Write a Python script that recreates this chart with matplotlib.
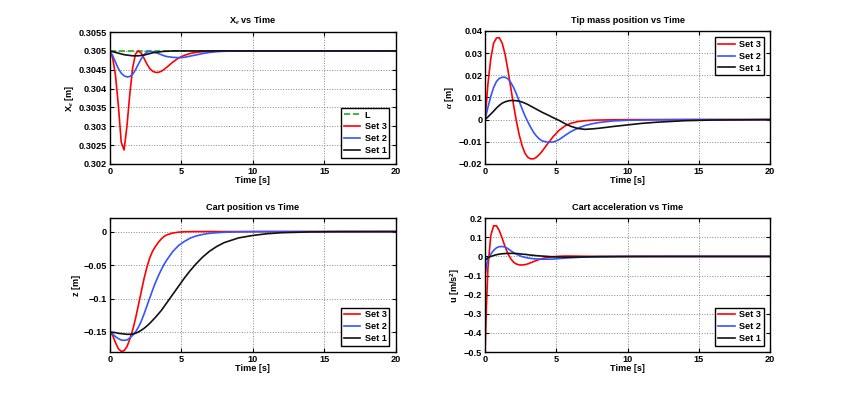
import matplotlib
matplotlib.use("Agg")
import matplotlib.pyplot as plt
from matplotlib.ticker import FuncFormatter

plt.rcParams['font.family'] = ['Liberation Sans', 'DejaVu Sans']
plt.rcParams['font.weight'] = 'bold'
plt.rcParams['axes.labelweight'] = 'bold'
plt.rcParams['font.size'] = 6.6
plt.rcParams['mathtext.fontset'] = 'custom'
plt.rcParams['mathtext.rm'] = 'Liberation Sans:bold'
plt.rcParams['mathtext.it'] = 'Liberation Serif:italic'

# time samples (s)
t = [0, 0.2, 0.4, 0.6, 0.8, 1.0, 1.2, 1.4, 1.6, 1.8, 2.0, 2.2, 2.4, 2.6, 2.8,
     3.0, 3.2, 3.4, 3.6, 3.8, 4.0, 4.4, 4.8, 5.2, 5.6, 6.0, 6.5, 7, 7.5, 8, 9, 10,
     11, 12, 14, 16, 20]
t_u = [0, 0.1] + t[1:]

# Xe [m]
xe_L = [0.305] * len(t)
xe_set3 = [0.30500, 0.30482, 0.30435, 0.30355, 0.30258, 0.30237, 0.30300, 0.30385,
           0.30455, 0.30492, 0.30500, 0.30494, 0.30480, 0.30465, 0.30453, 0.30446,
           0.30443, 0.30443, 0.30446, 0.30451, 0.30457, 0.30470, 0.30481, 0.30488,
           0.30493, 0.30496, 0.30498, 0.30499, 0.30500, 0.30500, 0.30500, 0.30500,
           0.30500, 0.30500, 0.30500, 0.30500, 0.30500]
xe_set2 = [0.30500, 0.30488, 0.30470, 0.30453, 0.30441, 0.30434, 0.30431, 0.30432,
           0.30438, 0.30450, 0.30465, 0.30479, 0.30490, 0.30497, 0.30499, 0.30498,
           0.30496, 0.30493, 0.30490, 0.30487, 0.30485, 0.30483, 0.30482, 0.30483,
           0.30486, 0.30489, 0.30493, 0.30496, 0.30498, 0.30499, 0.30500, 0.30500,
           0.30500, 0.30500, 0.30500, 0.30500, 0.30500]
xe_set1 = [0.30500, 0.30498, 0.30496, 0.30494, 0.30492, 0.30490, 0.30489, 0.30488,
           0.30487, 0.30487, 0.30487, 0.30488, 0.30489, 0.30491, 0.30493, 0.30495,
           0.30496, 0.30497, 0.30498, 0.30499, 0.30499, 0.30500, 0.30500, 0.30500,
           0.30500, 0.30500, 0.30500, 0.30500, 0.30500, 0.30500, 0.30500, 0.30500,
           0.30500, 0.30500, 0.30500, 0.30500, 0.30500]

# alpha [m]
al_set3 = [0, 0.0160, 0.0275, 0.0345, 0.0368, 0.0369, 0.0345, 0.0295, 0.0225, 0.0145,
           0.0065, -0.0008, -0.0070, -0.0118, -0.0152, -0.0170, -0.0177, -0.0177,
           -0.0170, -0.0158, -0.0143, -0.0108, -0.0075, -0.0048, -0.0029, -0.0017,
           -0.0009, -0.0005, -0.0003, -0.0002, -0.0001, 0, 0, 0, 0, 0, 0]
al_set2 = [0, 0.0055, 0.0105, 0.0145, 0.0172, 0.0186, 0.0191, 0.0191, 0.0184, 0.0168,
           0.0145, 0.0115, 0.0082, 0.0048, 0.0017, -0.0010, -0.0035, -0.0057, -0.0074,
           -0.0087, -0.0096, -0.0102, -0.0101, -0.0090, -0.0072, -0.0055, -0.0039,
           -0.0027, -0.0019, -0.0013, -0.0006, -0.0003, -0.0002, -0.0001, 0, 0, 0]
al_set1 = [0, 0.0012, 0.0025, 0.0038, 0.0052, 0.0064, 0.0074, 0.0080, 0.0084, 0.0086,
           0.0086, 0.0085, 0.0083, 0.0079, 0.0074, 0.0068, 0.0061, 0.0054, 0.0047,
           0.0040, 0.0033, 0.0021, 0.0008, -0.0004, -0.0018, -0.0030, -0.0040,
           -0.0044, -0.0042, -0.0039, -0.0031, -0.0024, -0.0017, -0.0012, -0.0005,
           -0.0002, 0]

# z [m]
z_set3 = [-0.150, -0.155, -0.166, -0.175, -0.179, -0.178, -0.172, -0.161, -0.147,
          -0.130, -0.110, -0.090, -0.070, -0.053, -0.039, -0.029, -0.022, -0.016,
          -0.011, -0.0072, -0.0048, -0.0022, -0.0009, -0.0003, -0.0001, 0, 0, 0, 0,
          0, 0, 0, 0, 0, 0, 0, 0]
z_set2 = [-0.150, -0.153, -0.157, -0.160, -0.162, -0.1625, -0.162, -0.159, -0.155,
          -0.150, -0.143, -0.134, -0.123, -0.111, -0.099, -0.087, -0.076, -0.066,
          -0.057, -0.049, -0.042, -0.030, -0.021, -0.015, -0.010, -0.0068, -0.0042,
          -0.0025, -0.0017, -0.0010, -0.0004, -0.0001, 0, 0, 0, 0, 0]
z_set1 = [-0.150, -0.1505, -0.151, -0.152, -0.1525, -0.153, -0.1535, -0.1535, -0.153,
          -0.152, -0.150, -0.1475, -0.1445, -0.141, -0.137, -0.1325, -0.128, -0.123,
          -0.118, -0.112, -0.106, -0.094, -0.082, -0.070, -0.059, -0.049, -0.038,
          -0.029, -0.022, -0.0165, -0.0095, -0.0058, -0.0032, -0.0017, -0.0005,
          -0.0001, 0]

# u [m/s^2]
u_set3 = [-0.50, -0.25, -0.06, 0.11, 0.160, 0.160, 0.135, 0.095, 0.052, 0.015, -0.012,
          -0.030, -0.040, -0.044, -0.045, -0.043, -0.039, -0.033, -0.027, -0.021,
          -0.016, -0.011, -0.005, -0.001, 0.001, 0.002, 0.002, 0.0015, 0.001, 0.0007,
          0.0003, 0, 0, 0, 0, 0, 0, 0]
u_set2 = [-0.10, -0.045, -0.015, 0.012, 0.032, 0.045, 0.051, 0.052, 0.049, 0.041,
          0.030, 0.020, 0.012, 0.005, -0.001, -0.005, -0.008, -0.010, -0.012, -0.013,
          -0.014, -0.0145, -0.0145, -0.0135, -0.011, -0.009, -0.007, -0.005, -0.003,
          -0.002, -0.001, -0.0004, 0, 0, 0, 0, 0, 0]
u_set1 = [-0.020, -0.013, -0.007, 0.000, 0.005, 0.009, 0.012, 0.014, 0.015, 0.016,
          0.016, 0.016, 0.015, 0.014, 0.012, 0.011, 0.009, 0.007, 0.006, 0.004, 0.003,
          0.002, 0.0, -0.002, -0.003, -0.0035, -0.0035, -0.003, -0.0025, -0.002,
          -0.0015, -0.001, -0.0005, -0.0003, -0.0002, 0, 0, 0]

RED = '#ff0000'
BLUE = '#3355ff'
BLACK = '#111111'
GREEN = '#22aa22'


def fmt(v, pos):
    s = '%g' % round(v, 6)
    return s.replace('-', '\u2212')


def style(ax, title, ylabel, ylim, yticks):
    ax.set_xlim(0, 20)
    ax.set_xticks([0, 5, 10, 15, 20])
    ax.set_ylim(*ylim)
    ax.set_yticks(yticks)
    ax.yaxis.set_major_formatter(FuncFormatter(fmt))
    ax.grid(True, linestyle=':', color='#888888', linewidth=0.7)
    ax.tick_params(direction='in', top=True, right=True, length=3, width=0.8, pad=2)
    for sp in ax.spines.values():
        sp.set_linewidth(1.0)
    ax.set_title(title, fontsize=6.6, fontweight='bold', pad=6)
    ax.set_xlabel('Time [s]', labelpad=0)
    ax.set_ylabel(ylabel, labelpad=2)


def legend(ax, loc):
    leg = ax.legend(loc=loc, fancybox=False, framealpha=1, edgecolor='black',
                    handlelength=1.8, handletextpad=0.5, borderpad=0.3,
                    labelspacing=0.3, borderaxespad=0.7, fontsize=6.6)
    leg.get_frame().set_linewidth(1.0)


fig = plt.figure(figsize=(8.51, 3.96), dpi=100)
ax1 = fig.add_axes([0.129, 0.586, 0.336, 0.333])
ax2 = fig.add_axes([0.570, 0.586, 0.335, 0.336])
ax3 = fig.add_axes([0.129, 0.111, 0.336, 0.338])
ax4 = fig.add_axes([0.570, 0.111, 0.335, 0.338])

LW = 1.2
ax1.plot(t, xe_L, '--', color=GREEN, lw=LW, label='L')
ax1.plot(t, xe_set3, color=RED, lw=LW, label='Set 3')
ax1.plot(t, xe_set2, color=BLUE, lw=LW, label='Set 2')
ax1.plot(t, xe_set1, color=BLACK, lw=LW, label='Set 1')
style(ax1, 'X$_e$ vs Time', 'X$_e$ [m]', (0.302, 0.3055),
      [0.302, 0.3025, 0.303, 0.3035, 0.304, 0.3045, 0.305, 0.3055])
legend(ax1, 'lower right')

ax2.plot(t, al_set3, color=RED, lw=LW, label='Set 3')
ax2.plot(t, al_set2, color=BLUE, lw=LW, label='Set 2')
ax2.plot(t, al_set1, color=BLACK, lw=LW, label='Set 1')
style(ax2, 'Tip mass position vs Time', r'$\alpha$ [m]', (-0.02, 0.04),
      [-0.02, -0.01, 0, 0.01, 0.02, 0.03, 0.04])
legend(ax2, 'upper right')

ax3.plot(t, z_set3, color=RED, lw=LW, label='Set 3')
ax3.plot(t, z_set2, color=BLUE, lw=LW, label='Set 2')
ax3.plot(t, z_set1, color=BLACK, lw=LW, label='Set 1')
style(ax3, 'Cart position vs Time', 'z [m]', (-0.18, 0.02),
      [-0.15, -0.1, -0.05, 0])
legend(ax3, 'lower right')

ax4.plot(t_u, u_set3, color=RED, lw=LW, label='Set 3')
ax4.plot(t_u, u_set2, color=BLUE, lw=LW, label='Set 2')
ax4.plot(t_u, u_set1, color=BLACK, lw=LW, label='Set 1')
style(ax4, 'Cart acceleration vs Time', 'u [m/s$^2$]', (-0.5, 0.2),
      [-0.5, -0.4, -0.3, -0.2, -0.1, 0, 0.1, 0.2])
legend(ax4, 'lower right')

fig.savefig('out.png', dpi=100)
